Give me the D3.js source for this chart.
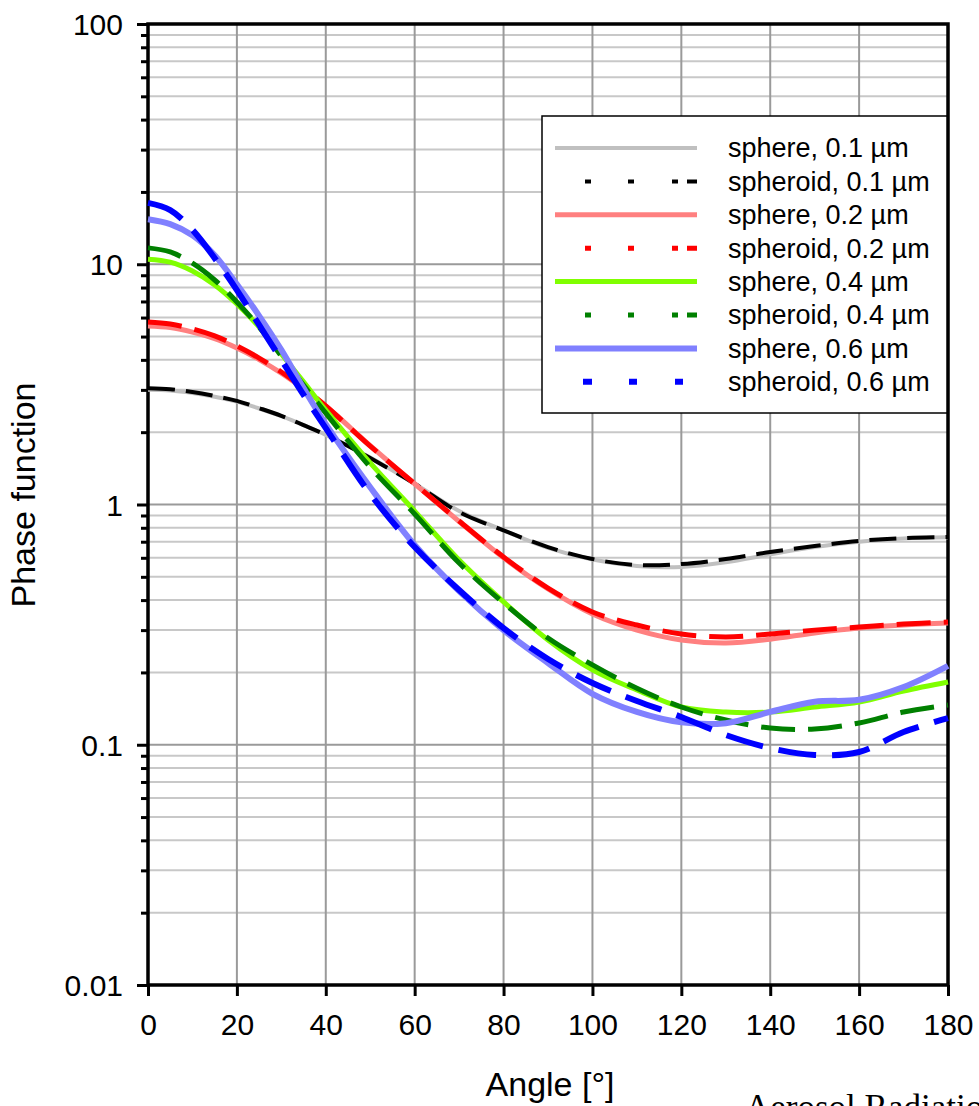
<!DOCTYPE html>
<html>
<head>
<meta charset="utf-8">
<script src="https://cdn.jsdelivr.net/npm/d3@7"></script>
<style>
  body { margin: 0; background: #fff; }
  svg text { font-family: "Liberation Sans", Arial, sans-serif; fill: #000; }
</style>
</head>
<body>
<svg id="chart" width="979" height="1106"></svg>
<script>
// scattering angle [deg]
var angles = [0, 5, 10, 15, 20, 25, 30, 35, 40, 50, 60, 70, 80, 90, 100, 110, 120, 130, 140, 150, 160, 170, 180];

// phase function values
var sphere01   = [3.0, 2.98, 2.91, 2.81, 2.68, 2.51, 2.33, 2.14, 1.95, 1.57, 1.22, 0.94, 0.78, 0.66, 0.59, 0.555, 0.55, 0.575, 0.62, 0.665, 0.70, 0.722, 0.73];
var spheroid01 = [3.05, 3.02, 2.94, 2.83, 2.70, 2.52, 2.34, 2.14, 1.95, 1.56, 1.22, 0.93, 0.78, 0.665, 0.593, 0.56, 0.565, 0.593, 0.634, 0.672, 0.705, 0.725, 0.732];
var sphere02   = [5.53, 5.45, 5.22, 4.90, 4.48, 4.01, 3.52, 3.03, 2.57, 1.76, 1.22, 0.85, 0.60, 0.445, 0.350, 0.300, 0.273, 0.265, 0.275, 0.292, 0.306, 0.315, 0.321];
var spheroid02 = [5.75, 5.64, 5.38, 5.03, 4.57, 4.07, 3.56, 3.05, 2.57, 1.75, 1.22, 0.854, 0.605, 0.449, 0.357, 0.315, 0.289, 0.281, 0.289, 0.300, 0.309, 0.318, 0.324];
var sphere04   = [10.5, 10.2, 9.37, 8.2, 6.83, 5.48, 4.23, 3.24, 2.47, 1.49, 0.939, 0.587, 0.393, 0.273, 0.205, 0.169, 0.1436, 0.1368, 0.1368, 0.1436, 0.1506, 0.1674, 0.1825];
var spheroid04 = [11.7, 11.25, 10.1, 8.6, 6.97, 5.48, 4.15, 3.14, 2.40, 1.43, 0.913, 0.571, 0.389, 0.278, 0.215, 0.172, 0.1436, 0.1268, 0.1174, 0.1163, 0.1232, 0.1368, 0.1463];
var sphere06   = [15.4, 14.7, 13.2, 10.9, 8.25, 6.1, 4.4, 3.05, 2.16, 1.18, 0.678, 0.436, 0.300, 0.219, 0.163, 0.137, 0.124, 0.123, 0.137, 0.151, 0.154, 0.174, 0.213];
var spheroid06 = [18.0, 16.8, 13.9, 10.6, 7.81, 5.59, 4.00, 2.86, 2.08, 1.106, 0.665, 0.441, 0.306, 0.2275, 0.1807, 0.1521, 0.1305, 0.1098, 0.0969, 0.0907, 0.0933, 0.113, 0.1292];

var seriesNames = ['sphere, 0.1 µm', 'spheroid, 0.1 µm', 'sphere, 0.2 µm', 'spheroid, 0.2 µm',
                   'sphere, 0.4 µm', 'spheroid, 0.4 µm', 'sphere, 0.6 µm', 'spheroid, 0.6 µm'];
var seriesValues = [sphere01, spheroid01, sphere02, spheroid02, sphere04, spheroid04, sphere06, spheroid06];

var xTicks = [0, 20, 40, 60, 80, 100, 120, 140, 160, 180];
var yMajor = [0.01, 0.1, 1, 10, 100];
var yLabels = ['0.01', '0.1', '1', '10', '100'];

// styling
var colors = ['#c0c0c0', '#000000', '#ff8080', '#ff0000', '#80ff00', '#008000', '#8080ff', '#0000ff'];
var widths = [4, 4, 5, 5, 5, 5, 6, 6];
var dashes = [null, '27,11', null, '34,13', null, '34,13', null, '38,16'];
var legendDashes = [null, '0,30,6,37,6,38,6,9,10,100', null, '0,30,6,37,6,38,6,9,10,100',
                    null, '0,30,6,37,6,38,6,9,10,100', null, '0,28,9,37,8,38,8,100'];

var LEFT = 148, RIGHT = 948, TOP = 24, BOTTOM = 985;

var svg = d3.select('#chart');

var x = d3.scaleLinear().domain([0, 180]).range([LEFT, RIGHT]);
var y = d3.scaleLog().domain([0.01, 100]).range([BOTTOM, TOP]);

// minor log positions 2..9 per decade
var yMinor = [];
yMajor.slice(0, -1).forEach(function(d) {
  for (var k = 2; k <= 9; k++) yMinor.push(d * k);
});

// grid
var grid = svg.append('g');
grid.selectAll('line.hminor')
  .data(yMinor)
  .enter().append('line')
    .attr('x1', LEFT).attr('x2', RIGHT)
    .attr('y1', function(d) { return y(d); })
    .attr('y2', function(d) { return y(d); })
    .attr('stroke', '#c8c8c8')
    .attr('stroke-width', 2);
grid.selectAll('line.hmajor')
  .data(yMajor.slice(1, -1))
  .enter().append('line')
    .attr('x1', LEFT).attr('x2', RIGHT)
    .attr('y1', function(d) { return y(d); })
    .attr('y2', function(d) { return y(d); })
    .attr('stroke', '#9a9a9a')
    .attr('stroke-width', 2);
grid.selectAll('line.v')
  .data(xTicks.slice(1, -1))
  .enter().append('line')
    .attr('x1', function(d) { return x(d); })
    .attr('x2', function(d) { return x(d); })
    .attr('y1', TOP).attr('y2', BOTTOM)
    .attr('stroke', '#9a9a9a')
    .attr('stroke-width', 2);

// axes
var yAxisMajor = svg.append('g')
    .attr('transform', 'translate(' + LEFT + ',0)')
    .call(d3.axisLeft(y).tickValues(yMajor).tickSize(11).tickPadding(14)
      .tickFormat(function(d, i) { return yLabels[i]; }));
var yAxisMinor = svg.append('g')
    .attr('transform', 'translate(' + LEFT + ',0)')
    .call(d3.axisLeft(y).tickValues(yMinor).tickSize(7).tickFormat(''));
var xAxis = svg.append('g')
    .attr('transform', 'translate(0,' + BOTTOM + ')')
    .call(d3.axisBottom(x).tickValues(xTicks).tickSize(11).tickPadding(18));

[yAxisMajor, yAxisMinor, xAxis].forEach(function(ax) {
  ax.select('.domain').remove();
  ax.selectAll('.tick line').attr('stroke', '#000').attr('stroke-width', 3);
  ax.selectAll('.tick text').style('font-size', '30px').attr('font-family', null);
});
yAxisMajor.selectAll('.tick text').attr('dy', '0.35em');

// plot frame
svg.append('rect')
    .attr('x', LEFT).attr('y', TOP)
    .attr('width', RIGHT - LEFT).attr('height', BOTTOM - TOP)
    .attr('fill', 'none')
    .attr('stroke', '#000')
    .attr('stroke-width', 3.5);

// curves
var line = d3.line()
    .x(function(d) { return x(d[0]); })
    .y(function(d) { return y(d[1]); })
    .curve(d3.curveCatmullRom.alpha(0.5));

svg.append('g').selectAll('path')
  .data(seriesValues)
  .enter().append('path')
    .attr('d', function(vals) { return line(angles.map(function(a, i) { return [a, vals[i]]; })); })
    .attr('fill', 'none')
    .attr('stroke', function(d, i) { return colors[i]; })
    .attr('stroke-width', function(d, i) { return widths[i]; })
    .attr('stroke-dasharray', function(d, i) { return dashes[i]; })
    .attr('stroke-linecap', 'butt');

// legend
var legend = svg.append('g');
legend.append('rect')
    .attr('x', 542).attr('y', 116)
    .attr('width', 405).attr('height', 297)
    .attr('fill', '#fff')
    .attr('stroke', '#000')
    .attr('stroke-width', 1.5);

var rows = legend.selectAll('g.row')
  .data(seriesNames)
  .enter().append('g')
    .attr('transform', function(d, i) { return 'translate(0,' + (148 + i * 33.4) + ')'; });
rows.append('line')
    .attr('x1', 555).attr('x2', 697)
    .attr('y1', 0).attr('y2', 0)
    .attr('stroke', function(d, i) { return colors[i]; })
    .attr('stroke-width', function(d, i) { return widths[i]; })
    .attr('stroke-dasharray', function(d, i) { return legendDashes[i]; });
rows.append('text')
    .attr('x', 728)
    .attr('dy', '0.35em')
    .style('font-size', '27px')
    .text(function(d) { return d; });

// axis titles
svg.append('text')
    .attr('x', 550).attr('y', 1096)
    .attr('text-anchor', 'middle')
    .style('font-size', '34px')
    .text('Angle [°]');
svg.append('text')
    .attr('transform', 'translate(35,495) rotate(-90)')
    .attr('text-anchor', 'middle')
    .style('font-size', '34px')
    .text('Phase function');

// caption text cut by the lower edge
svg.append('text')
    .attr('x', 745).attr('y', 1119)
    .style('font-family', '"Liberation Serif", "Times New Roman", serif')
    .style('font-size', '35px')
    .text('Aerosol Radiation');
</script>
</body>
</html>
